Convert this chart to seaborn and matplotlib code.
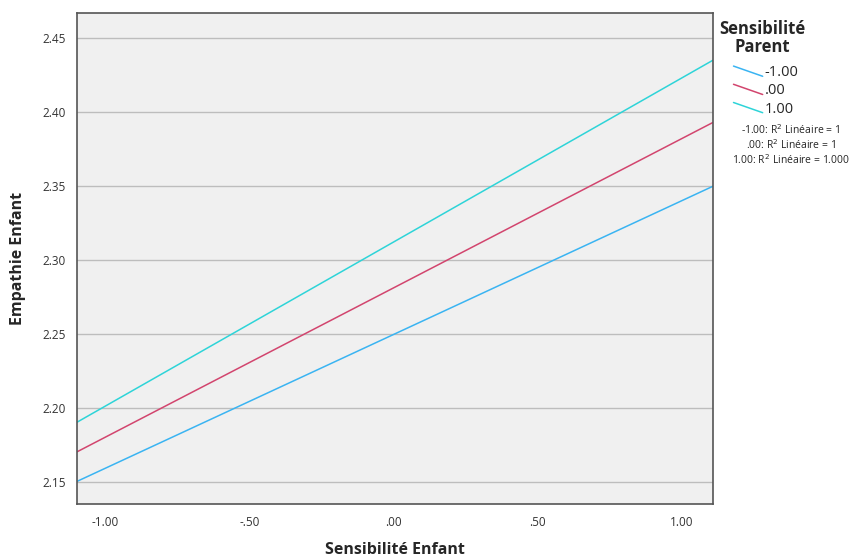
import numpy as np
import pandas as pd
import matplotlib
matplotlib.use("Agg")
import matplotlib.pyplot as plt
import seaborn as sns
from matplotlib.legend_handler import HandlerLine2D
from matplotlib.lines import Line2D

# données (droites d'ajustement aux points -1 et 1)
sens_enfant = [-1.0, 1.0]
groupes = ["-1.00", ".00", "1.00"]
empathie_m1 = [2.159, 2.340]
empathie_0 = [2.180, 2.382]
empathie_p1 = [2.201, 2.423]
r2_labels = ["-1.00: R$^2$ Linéaire = 1", ".00: R$^2$ Linéaire = 1", "1.00: R$^2$ Linéaire = 1.000"]
x_ticks = [-1.0, -0.5, 0.0, 0.5, 1.0]
x_ticklabels = ["-1.00", "-.50", ".00", ".50", "1.00"]
y_ticks = [2.15, 2.20, 2.25, 2.30, 2.35, 2.40, 2.45]

couleurs = ["#3AB4F2", "#D2456E", "#2ED4D8"]

df = pd.DataFrame({
    "Sensibilité Enfant": sens_enfant * 3,
    "Empathie Enfant": empathie_m1 + empathie_0 + empathie_p1,
    "Sensibilité Parent": [g for g in groupes for _ in sens_enfant],
})

sns.set_style("white")
plt.rcParams["font.family"] = ["Open Sans", "DejaVu Sans"]

fig = plt.figure(figsize=(8.66, 5.58), dpi=100)
ax = fig.add_axes([0.089, 0.097, 0.734, 0.88])
ax.set_facecolor("#F0F0F0")
ax.set_xlim(-1.097, 1.107)
ax.set_ylim(2.135, 2.467)

for g, c in zip(groupes, couleurs):
    sub = df[df["Sensibilité Parent"] == g]
    sns.regplot(data=sub, x="Sensibilité Enfant", y="Empathie Enfant", ax=ax,
                scatter=False, ci=None, truncate=False, color=c,
                line_kws=dict(lw=1.1))

ax.set_xlim(-1.097, 1.107)
ax.set_ylim(2.135, 2.467)
ax.set_xticks(x_ticks)
ax.set_xticklabels(x_ticklabels)
ax.set_yticks(y_ticks)
ax.set_yticklabels([f"{v:.2f}" for v in y_ticks])
ax.yaxis.grid(True, color="#BDBDBD", lw=1)
ax.xaxis.grid(False)
ax.set_axisbelow(True)
ax.tick_params(axis="both", labelsize=8.5, colors="#333333", length=0, pad=8)
ax.tick_params(axis="x", pad=9)
for s in ax.spines.values():
    s.set_color("#555555")
    s.set_linewidth(1.2)

ax.set_xlabel("Sensibilité Enfant", fontsize=11.5, fontweight="bold", labelpad=9)
ax.set_ylabel("Empathie Enfant", fontsize=11.5, fontweight="bold", labelpad=12)


class HandlerDiag(HandlerLine2D):
    def create_artists(self, legend, orig_handle, xdescent, ydescent,
                       width, height, fontsize, trans):
        line = Line2D([0, width], [height, 0], color=orig_handle.get_color(),
                      lw=orig_handle.get_linewidth(), transform=trans)
        return [line]


fig.text(762 / 866, 1 - 38 / 558, "Sensibilité\nParent", fontsize=12,
         fontweight="bold", ha="center", va="center", linespacing=0.95)

handles = [Line2D([], [], color=c, lw=1.1) for c in couleurs]
leg = fig.legend(handles, groupes, loc="upper left", bbox_to_anchor=(0.847, 0.883),
                 frameon=False, fontsize=10.5,
                 handler_map={Line2D: HandlerDiag()}, handlelength=2.0,
                 handletextpad=0.15, labelspacing=0.22, borderpad=0.0,
                 borderaxespad=0.0)

for i, t in enumerate(r2_labels):
    fig.text(0.913, 1 - 130 / 558 - i * 15 / 558, t, fontsize=7.5, ha="center", va="center")

fig.savefig("out.png", dpi=100)
